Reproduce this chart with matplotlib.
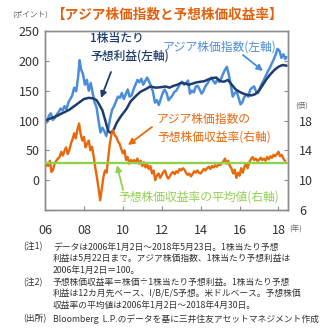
import matplotlib
matplotlib.use("Agg")
import matplotlib.pyplot as plt
import numpy as np

plt.rcParams['font.family'] = ['Noto Sans CJK JP', 'DejaVu Sans']

# アジア株価指数 (2006年1月2日=100)
index_t = [2006.00, 2006.10, 2006.20, 2006.30, 2006.40, 2006.50, 2006.60, 2006.70, 2006.80, 2006.90,
           2007.00, 2007.10, 2007.20, 2007.30, 2007.40, 2007.50, 2007.60, 2007.70, 2007.78, 2007.85,
           2007.95, 2008.05, 2008.15, 2008.25, 2008.35, 2008.45, 2008.55, 2008.65, 2008.75, 2008.85,
           2008.95, 2009.05, 2009.15, 2009.25, 2009.35, 2009.45, 2009.55, 2009.65, 2009.75, 2009.85,
           2009.95, 2010.05, 2010.15, 2010.25, 2010.35, 2010.45, 2010.55, 2010.65, 2010.75, 2010.85,
           2010.95, 2011.05, 2011.15, 2011.25, 2011.35, 2011.45, 2011.55, 2011.65, 2011.75, 2011.85,
           2011.95, 2012.05, 2012.15, 2012.25, 2012.35, 2012.45, 2012.55, 2012.65, 2012.75, 2012.85,
           2012.95, 2013.05, 2013.15, 2013.25, 2013.35, 2013.45, 2013.55, 2013.65, 2013.75, 2013.85,
           2013.95, 2014.05, 2014.15, 2014.25, 2014.35, 2014.45, 2014.55, 2014.65, 2014.75, 2014.85,
           2014.95, 2015.05, 2015.15, 2015.25, 2015.35, 2015.45, 2015.55, 2015.65, 2015.75, 2015.85,
           2015.95, 2016.05, 2016.15, 2016.25, 2016.35, 2016.45, 2016.55, 2016.65, 2016.75, 2016.85,
           2016.95, 2017.05, 2017.15, 2017.25, 2017.35, 2017.45, 2017.55, 2017.65, 2017.75, 2017.85,
           2017.95, 2018.05, 2018.15, 2018.25, 2018.35, 2018.40]
index_v = [100, 97, 108, 112, 101, 104, 110, 114, 120, 117,
           124, 119, 130, 136, 142, 155, 149, 172, 201, 186,
           178, 160, 168, 150, 163, 146, 130, 122, 100, 80,
           88, 82, 74, 86, 104, 118, 124, 132, 140, 138,
           146, 136, 144, 152, 140, 142, 152, 160, 168, 164,
           170, 160, 166, 172, 165, 158, 148, 130, 134, 126,
           136, 146, 152, 146, 134, 138, 142, 148, 150, 156,
           162, 165, 160, 162, 167, 145, 150, 147, 157, 158,
           152, 145, 150, 158, 162, 168, 172, 166, 162, 168,
           165, 170, 178, 185, 190, 176, 160, 140, 146, 148,
           138, 127, 131, 140, 143, 140, 152, 155, 157, 148,
           146, 155, 162, 168, 175, 182, 188, 195, 202, 210,
           220, 217, 205, 211, 203, 206]

# 1株当たり予想利益 (2006年1月2日=100)
eps_t = [2006.00, 2006.25, 2006.50, 2006.75, 2007.00, 2007.25, 2007.50, 2007.75, 2008.00, 2008.25,
         2008.50, 2008.65, 2008.80, 2008.95, 2009.10, 2009.25, 2009.40, 2009.55, 2009.70, 2009.90,
         2010.20, 2010.40, 2010.70, 2010.90, 2011.20, 2011.40, 2011.70, 2012.00, 2012.20, 2012.40,
         2012.60, 2012.80, 2013.00, 2013.20, 2013.40, 2013.60, 2013.80, 2014.00, 2014.20, 2014.40,
         2014.60, 2014.80, 2015.00, 2015.20, 2015.40, 2015.60, 2015.80, 2016.00, 2016.20, 2016.40,
         2016.60, 2016.80, 2017.00, 2017.20, 2017.40, 2017.60, 2017.80, 2018.00, 2018.20, 2018.40]
eps_v = [100, 103, 106, 110, 114, 118, 124, 130, 136, 138,
         137, 134, 126, 117, 100, 82, 79, 86, 97, 107,
         120, 132, 142, 148, 153, 157, 155, 156, 157, 155,
         158, 160, 163, 162, 160, 162, 164, 165, 166, 169,
         171, 172, 166, 165, 168, 160, 152, 148, 145, 143,
         142, 144, 150, 160, 170, 178, 185, 190, 193, 192]

# 予想株価収益率 (倍), 月次
per_t = np.round(2006 + np.arange(149) / 12, 3)
per_v = [11.7, 12.3, 11.9, 12.6, 11.1, 11.4, 12.3, 12.6, 12.9, 13.1, 13.8, 13.3,
         13.9, 14.4, 13.5, 14.0, 14.9, 15.5, 16.3, 15.6, 16.8, 17.6, 16.2, 15.3,
         15.8, 14.4, 14.9, 15.3, 14.0, 14.5, 13.2, 11.7, 10.4, 9.0, 7.3, 8.8,
         10.4, 11.3, 11.0, 13.0, 14.9, 16.2, 16.7, 16.0, 15.8, 15.2, 14.9, 14.2,
         13.6, 14.0, 12.7, 13.1, 12.2, 12.7, 12.5, 12.7, 12.3, 12.9, 12.2, 12.6,
         11.9, 12.4, 11.7, 12.1, 11.5, 11.9, 10.9, 11.3, 10.0, 10.6, 10.9, 10.3,
         10.7, 11.1, 11.3, 10.6, 10.2, 10.5, 10.9, 11.1, 10.8, 11.2, 11.0, 11.5,
         11.3, 11.6, 11.4, 11.0, 10.7, 10.9, 10.5, 10.8, 11.2, 11.0, 11.3, 11.0,
         10.9, 11.2, 11.5, 11.3, 11.6, 11.8, 11.5, 11.9, 11.7, 12.0, 11.8, 12.1,
         12.0, 12.3, 12.5, 12.9, 12.2, 12.6, 11.9, 11.6, 10.9, 11.4, 10.3, 11.0,
         10.6, 11.6, 11.0, 11.8, 12.2, 11.6, 12.4, 12.8, 13.1, 12.7, 12.9, 12.6,
         12.7, 13.0, 12.7, 12.9, 12.6, 13.1, 12.8, 13.2, 13.0, 13.4, 13.2, 13.5,
         13.8, 13.2, 13.4, 12.9, 12.6]
per_mean = 12.3

year_ticks = [2006, 2008, 2010, 2012, 2014, 2016, 2018]
year_labels = ["06", "08", "10", "12", "14", "16", "18"]
left_ticks = [-50, 0, 50, 100, 150, 200, 250]
left_labels = ["", "0", "50", "100", "150", "200", "250"]
right_ticks = [6, 10, 14, 18, 22, 26, 30]
right_labels = ["6", "10", "14", "18", "", "", ""]

notes = [
    ("(注1)", "データは2006年1月2日～2018年5月23日。1株当たり予想"),
    ("", "利益は5月22日まで。アジア株価指数、1株当たり予想利益は"),
    ("", "2006年1月2日＝100。"),
    ("(注2)", "予想株価収益率＝株価÷1株当たり予想利益。1株当たり予想"),
    ("", "利益は12カ月先ベース、I/B/E/S予想。米ドルベース。予想株価"),
    ("", "収益率の平均値は2006年1月2日～2018年4月30日。"),
    ("(出所)", "Bloomberg  L.P.のデータを基に三井住友アセットマネジメント作成"),
]

W = H = 329
C_INDEX = "#4A8ED9"
C_EPS = "#1F3C70"
C_PER = "#E8680A"
C_MEAN = "#92D050"
C_AXIS = "#8C8C8C"
C_TEXT = "#333333"


def fp(x, y):
    # pixel position (from top-left) to figure fraction
    return x / W, 1 - y / H


fig = plt.figure(figsize=(W / 100, H / 100), dpi=100)
ax = fig.add_axes([45 / W, 1 - 210 / H, 243 / W, 179 / H])
ax2 = ax.twinx()

ax.plot(index_t, index_v, color=C_INDEX, lw=1.8, zorder=2)
ax.plot(eps_t, eps_v, color=C_EPS, lw=1.8, zorder=3)
ax2.plot(per_t, per_v, color=C_PER, lw=1.7, zorder=2)
ax2.axhline(per_mean, color=C_MEAN, lw=1.7, zorder=3)

ax.set_xlim(2006, 2018.49)
ax.set_ylim(-50, 250)
ax2.set_ylim(6, 30)

ax.set_xticks(year_ticks)
ax.set_xticklabels(year_labels)
ax.set_yticks(left_ticks)
ax.set_yticklabels(left_labels)
ax2.set_yticks(right_ticks)
ax2.set_yticklabels(right_labels)

for a in (ax, ax2):
    for s in a.spines.values():
        s.set_color(C_AXIS)
        s.set_linewidth(1.0)
    a.tick_params(direction="in", length=3, width=0.8, color=C_AXIS,
                  labelsize=9, labelcolor=C_TEXT)
ax.tick_params(axis="x", pad=10)
ax.tick_params(axis="y", pad=4)
ax2.tick_params(axis="y", pad=8)

# series labels and arrows
arrow = dict(arrowstyle="-|>", lw=1.3, mutation_scale=9, shrinkA=0, shrinkB=0)
fs = 8.5
fig.text(*fp(90, 47), "1株当たり\n予想利益(左軸)", color=C_EPS, fontsize=fs,
         va="center", linespacing=1.45, fontweight="medium")
ax.annotate("", xy=fp(101, 98), xytext=fp(111, 72), xycoords="figure fraction",
            arrowprops=dict(arrow, color=C_EPS))

fig.text(*fp(163, 47), "アジア株価指数(左軸)", color=C_INDEX, fontsize=fs, va="center")
ax.annotate("", xy=fp(263, 71), xytext=fp(243, 55), xycoords="figure fraction",
            arrowprops=dict(arrow, color=C_INDEX))

fig.text(*fp(157, 128.5), "アジア株価指数の\n予想株価収益率(右軸)", color=C_PER,
         fontsize=fs, va="center", linespacing=1.45)
ax.annotate("", xy=fp(128, 145), xytext=fp(152, 127), xycoords="figure fraction",
            arrowprops=dict(arrow, color=C_PER))

fig.text(*fp(118, 197), "予想株価収益率の平均値(右軸)", color=C_MEAN, fontsize=fs,
         va="center")
ax.annotate("", xy=fp(117, 165), xytext=fp(123, 190), xycoords="figure fraction",
            arrowprops=dict(arrow, color=C_MEAN))

# title and unit labels
fig.text(*fp(51, 15), "【アジア株価指数と予想株価収益率】", color="#E0620E",
         fontsize=9.8, fontweight="bold", va="center")
fig.text(*fp(12, 15), "(ポイント)", color="#666666", fontsize=5.5, va="center")
fig.text(*fp(295, 106), "(倍)", color="#666666", fontsize=5.5, va="center")
fig.text(*fp(289, 230), "(年)", color="#666666", fontsize=5.5, va="center")

# notes
rows_y = [247, 258.5, 270.5, 282.5, 294, 305.5, 319]
for (head, body), y in zip(notes, rows_y):
    if head:
        fig.text(*fp(23, y), head, color=C_TEXT, fontsize=6.3, va="center")
    fig.text(*fp(53, y), body, color=C_TEXT, fontsize=6.3, va="center")

fig.savefig("out.png", dpi=100, facecolor="white")
